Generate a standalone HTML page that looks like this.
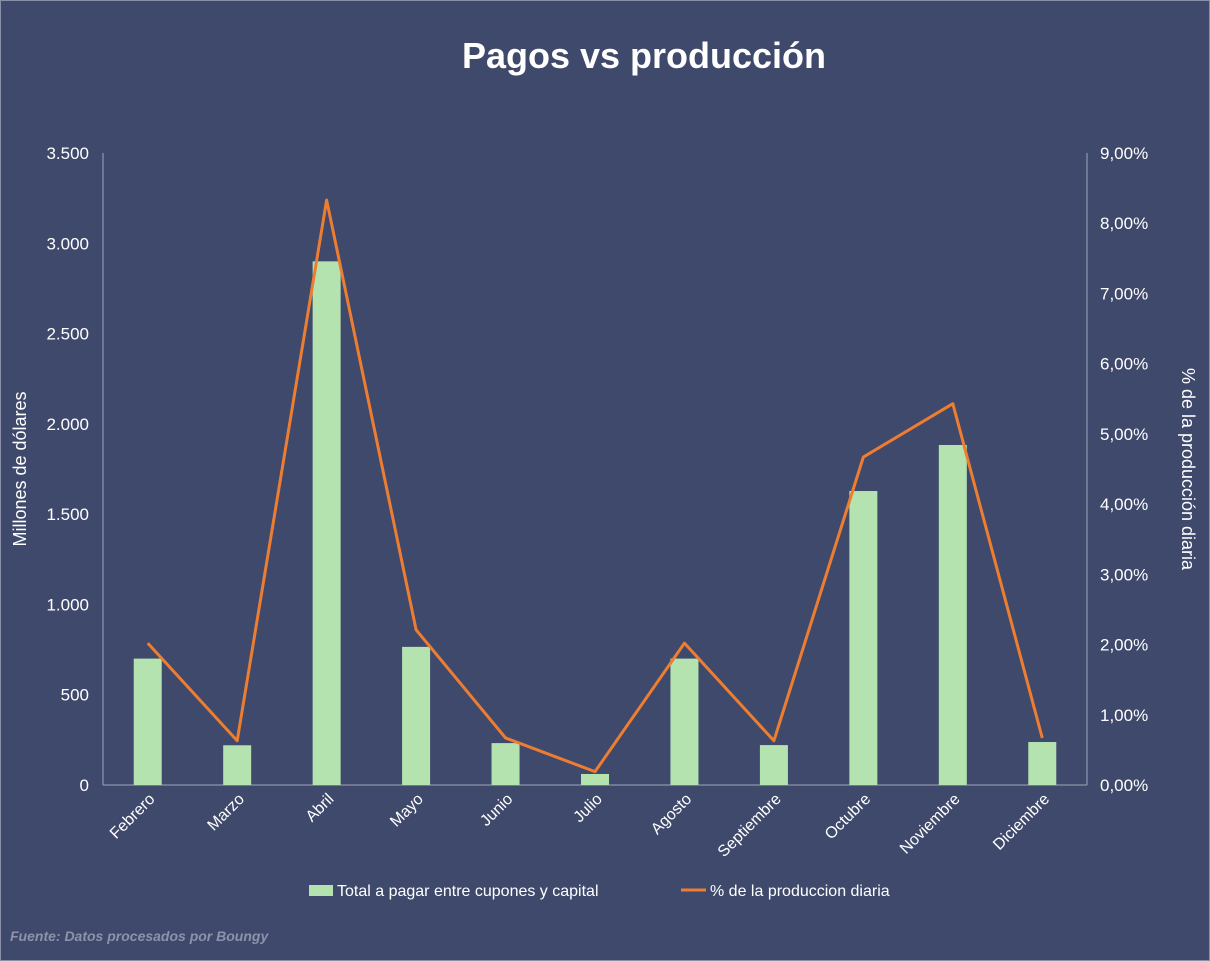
<!DOCTYPE html>
<html><head><meta charset="utf-8"><style>
body{margin:0;background:#3f496c;}
svg{display:block;font-family:"Liberation Sans",sans-serif;}
</style></head><body>
<svg id="chart" width="1210" height="961">
<rect x="0" y="0" width="1210" height="961" fill="#3f496c" stroke="#8a90a8" stroke-width="2"/>
<text x="644" y="68" text-anchor="middle" font-size="36" font-weight="bold" fill="#fff">Pagos vs producción</text>
<g id="axes"></g><g id="bars"></g><g id="line"></g>
<text transform="translate(26,469) rotate(-90)" text-anchor="middle" font-size="18" fill="#fff">Millones de dólares</text>
<text transform="translate(1182,469) rotate(90)" text-anchor="middle" font-size="18" fill="#fff">% de la producción diaria</text>
<g>
<rect x="309" y="885" width="24" height="11" fill="#b5e3b0"/>
<text x="337" y="896" font-size="16" fill="#fff">Total a pagar entre cupones y capital</text>
<line x1="681" y1="890" x2="706" y2="890" stroke="#ed7d31" stroke-width="3"/>
<text x="710" y="896" font-size="16" fill="#fff">% de la produccion diaria</text>
</g>
<text x="10" y="941" font-size="14" font-style="italic" font-weight="bold" fill="#8d93ab">Fuente: Datos procesados por Boungy</text>
</svg>
<script>
const categories=["Febrero","Marzo","Abril","Mayo","Junio","Julio","Agosto","Septiembre","Octubre","Noviembre","Diciembre"];
const payments=[700,220,2900,765,232,61,700,221,1628,1883,238];
const pctProduction=[2.02,0.63,8.33,2.21,0.67,0.19,2.02,0.63,4.67,5.43,0.67];
const leftTicks=[0,500,1000,1500,2000,2500,3000,3500];
const leftTickLabels=["0","500","1.000","1.500","2.000","2.500","3.000","3.500"];
const rightTicks=[0,1,2,3,4,5,6,7,8,9];
const rightTickLabels=["0,00%","1,00%","2,00%","3,00%","4,00%","5,00%","6,00%","7,00%","8,00%","9,00%"];
const NS="http://www.w3.org/2000/svg";
const X0=103,X1=1087,Y0=785,Y1=153;
const band=(X1-X0)/categories.length;
const xc=i=>X0+band*(i+0.5);
const yL=v=>Y0-(v/3500)*(Y0-Y1);
const yR=v=>Y0-(v/9)*(Y0-Y1);
function mk(tag,attrs,parent,txt){const e=document.createElementNS(NS,tag);for(const k in attrs)e.setAttribute(k,attrs[k]);if(txt!==undefined)e.textContent=txt;parent.appendChild(e);return e;}
const axes=document.getElementById('axes'),bars=document.getElementById('bars'),line=document.getElementById('line');
let e=mk('line',{x1:X0,y1:Y1,x2:X0,y2:Y0,stroke:'#a0a5b8','stroke-width':1},axes);


e=mk('line',{x1:X1,y1:Y1,x2:X1,y2:Y0,stroke:'#a0a5b8','stroke-width':1},axes);


e=mk('line',{x1:X0,y1:Y0,x2:X1,y2:Y0,stroke:'#a0a5b8','stroke-width':1},axes);


leftTicks.forEach((v,i)=>{
 const t=mk('text',{x:89,y:yL(v)+6,'text-anchor':'end','font-size':17,fill:'#fff'},axes,leftTickLabels[i]);
 
 
});
rightTicks.forEach((v,i)=>{
 const t=mk('text',{x:1100,y:yR(v)+6,'font-size':17,fill:'#fff'},axes,rightTickLabels[i]);
 
 
});
categories.forEach((c,i)=>{
 const t=mk('text',{x:xc(i)+8,y:800,'text-anchor':'end','font-size':16,fill:'#fff',transform:`rotate(-45 ${xc(i)+8} 800)`},axes,c);
 
 
 const b=mk('rect',{x:xc(i)-14,y:yL(payments[i]),width:28,height:Y0-yL(payments[i]),fill:'#b5e3b0'},bars);
 
 
});
const p=mk('polyline',{points:pctProduction.map((v,i)=>xc(i)+','+yR(v)).join(' '),fill:'none',stroke:'#ed7d31','stroke-width':3,'stroke-linejoin':'round'},line);


</script>
</body></html>
